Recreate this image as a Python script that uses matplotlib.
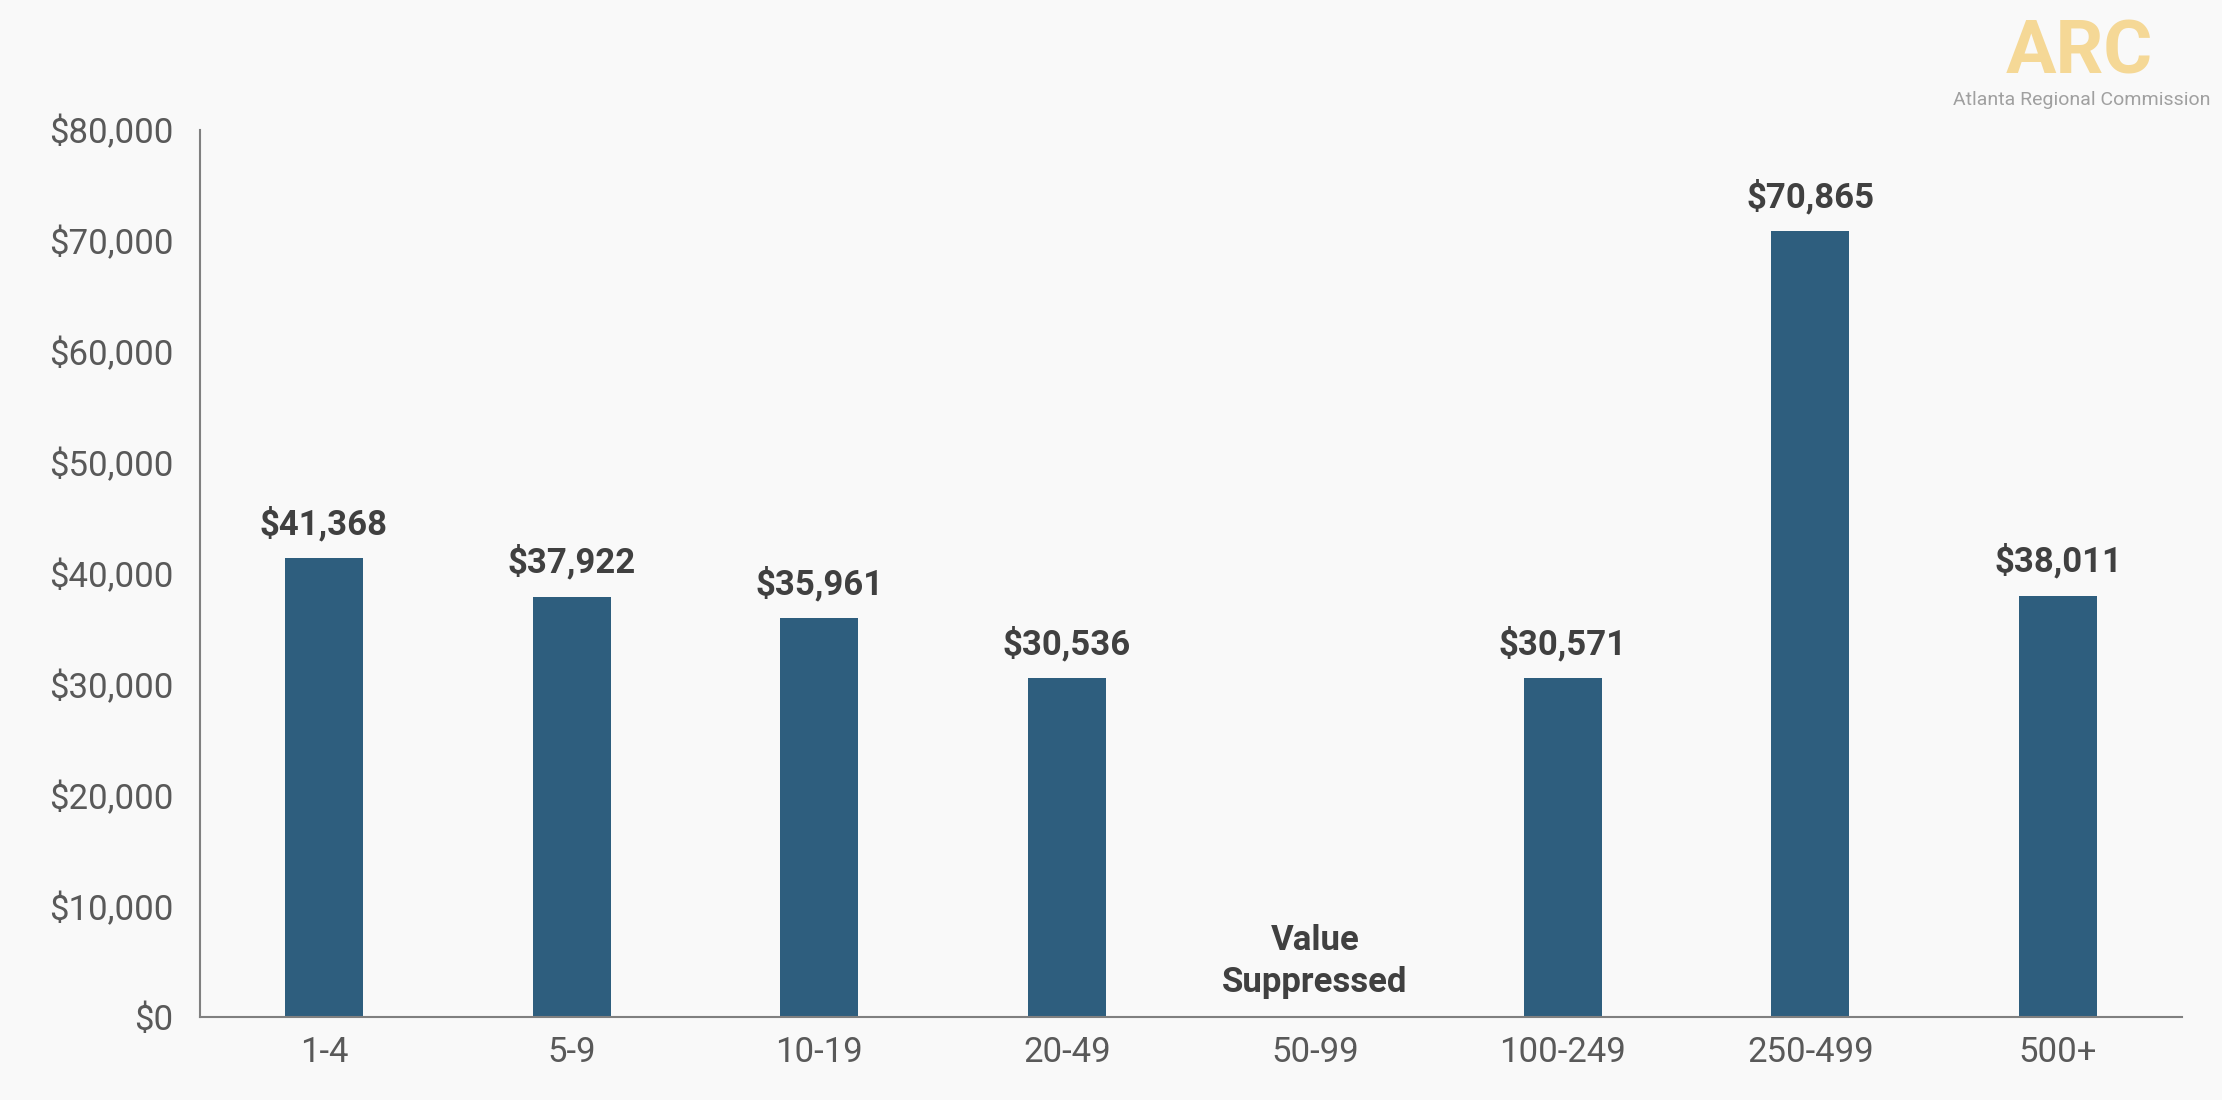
import matplotlib.pyplot as plt
import numpy as np

# size groups and average wages (50-99 suppressed)
categories = ['1-4', '5-9', '10-19', '20-49', '50-99', '100-249', '250-499', '500+']
wages = [41368, 37922, 35961, 30536, np.nan, 30571, 70865, 38011]
yticks = [0, 10000, 20000, 30000, 40000, 50000, 60000, 70000, 80000]

bg = '#f9f9f9'
bar_color = '#2e5e7e'

plt.rcParams['font.family'] = ['Roboto', 'DejaVu Sans']

fig = plt.figure(figsize=(22.22, 11), dpi=100, facecolor=bg)
ax = fig.add_axes([0.090, 0.0755, 0.892, 0.8063], facecolor=bg)

x = np.arange(len(categories))
vals = np.nan_to_num(wages)
ax.bar(x, vals, width=0.315, color=bar_color)

for xi, v in zip(x, wages):
    if np.isnan(v):
        ax.annotate('Value\nSuppressed', (xi, 0), xytext=(0, 13), textcoords='offset points',
                    ha='center', va='bottom', fontsize=25, fontweight='bold',
                    color='#404040', linespacing=1.35)
    else:
        ax.annotate('${:,.0f}'.format(v), (xi, v), xytext=(0, 12), textcoords='offset points',
                    ha='center', va='bottom', fontsize=25, fontweight='bold', color='#404040')

ax.set_xlim(-0.5, len(categories) - 0.5)
ax.set_ylim(0, 80000)
ax.set_yticks(yticks)
ax.set_yticklabels(['${:,}'.format(t) for t in yticks])
ax.set_xticks(x)
ax.set_xticklabels(categories)
ax.tick_params(axis='y', length=0, pad=19, labelsize=25, labelcolor='#595959')
ax.tick_params(axis='x', length=0, pad=14, labelsize=25, labelcolor='#595959')

for s in ['top', 'right']:
    ax.spines[s].set_visible(False)
for s in ['left', 'bottom']:
    ax.spines[s].set_color('#808080')
    ax.spines[s].set_linewidth(1.5)

# logo
fig.text(0.936, 0.951, 'ARC', ha='center', va='center', fontsize=54, fontweight='bold',
         color='#f5d896')
fig.text(0.995, 0.909, 'Atlanta Regional Commission', ha='right', va='center',
         fontsize=14, color='#a0a0a0')

fig.savefig('out.png', dpi=100, facecolor=bg)
